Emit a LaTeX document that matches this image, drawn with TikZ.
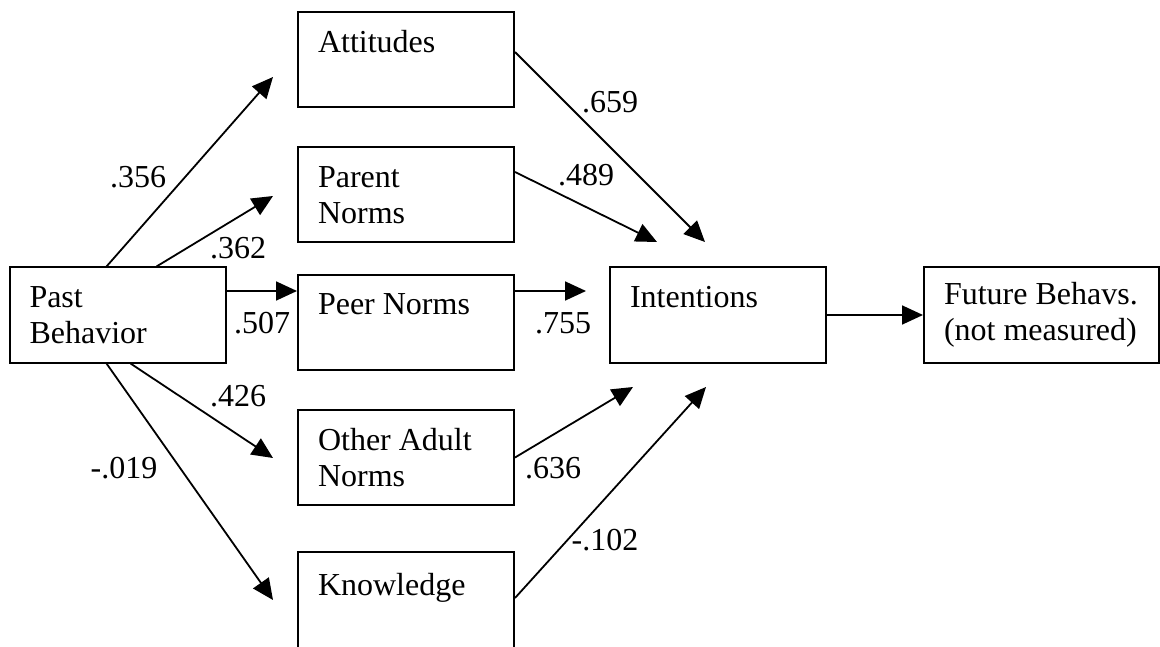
\documentclass[tikz,border=0pt]{standalone}
\usepackage{fontspec}
\setmainfont{Liberation Serif}
\usetikzlibrary{arrows.meta,positioning}

\begin{document}
\begin{tikzpicture}
      [ x=1pt, y=-1pt,
        font=\fontsize{32}{36}\selectfont,
        box/.style={draw, rectangle, line width=2pt, align=flush left,
                    text width=176pt, inner xsep=20pt, inner ysep=0pt,
                    minimum height=95pt},
        link/.style={-{Triangle[length=21pt,width=19pt]}, line width=1.8pt},
        weight/.style={inner sep=0pt}
      ]
      \useasboundingbox (0,0) rectangle (1160,647);

      \node[box]  (pb)   at (117.5,315)   {Past\\Behavior};
      \node[box]  (att)  at (406,59.5)    {Attitudes\\~};
      \node[box]  (par)  at (406,195)     {Parent\\Norms};
      \node[box]  (peer) at (406,322.5)   {Peer Norms\\~};
      \node[box]  (oth)  at (406,457.5)   {Other Adult\\Norms};
      \node[box,minimum height=100pt] (know) at (406,602) {Knowledge\\~};
      \node[box]  (int)  at (718,315)     {Intentions\\~};
      \node[box,text width=195pt] (fut) [right=96pt of int]
                                          {Future Behavs.\\(not measured)};

      % free arrow ends
      \coordinate (tAtt)  at (273,77);
      \coordinate (tPar)  at (273,196);
      \coordinate (tOth)  at (273,458);
      \coordinate (tKnow) at (273,600);
      \coordinate (iAtt)  at (705,242);
      \coordinate (iPar)  at (657,242);
      \coordinate (iOth)  at (633,387);
      \coordinate (iKnow) at (706,387);
      \coordinate (sPeer) at ([yshift=24pt]pb.east);
      \coordinate (sInt)  at ([yshift=31.5pt]peer.east);

      \draw[link] ([xshift=98pt]pb.north west)  -- (tAtt);
      \draw[link] ([xshift=148pt]pb.north west) -- (tPar);
      \draw[link] (sPeer) -- (sPeer -| peer.west);
      \draw[link] ([xshift=122pt]pb.south west) -- (tOth);
      \draw[link] ([xshift=98pt]pb.south west)  -- (tKnow);

      \draw[link] ([yshift=7.5pt]att.east) -- (iAtt);
      \draw[link] ([yshift=23pt]par.east)  -- (iPar);
      \draw[link,shorten >=23pt] (sInt) -- (sInt -| int.west);
      \draw[link] (oth.east) -- (iOth);
      \draw[link] ([yshift=4pt]know.east) -- (iKnow);
      \draw[link] (int) -- (fut);

      \node[weight] (w356) at (138,177) {.356};
      \node[weight] (w362) at (238,248) {.362};
      \node[weight] (w507) at (262,323) {.507};
      \node[weight] (w426) at (238,396) {.426};
      \node[weight] (w019) at (124,468) {-.019};
      \node[weight] (w659) at (610,102) {.659};
      \node[weight] (w489) at (586,175) {.489};
      \node[weight] (w755) at (563,323) {.755};
      \node[weight] (w636) at (553,468) {.636};
      \node[weight] (w102) at (605,540) {-.102};
    \end{tikzpicture}
\end{document}
